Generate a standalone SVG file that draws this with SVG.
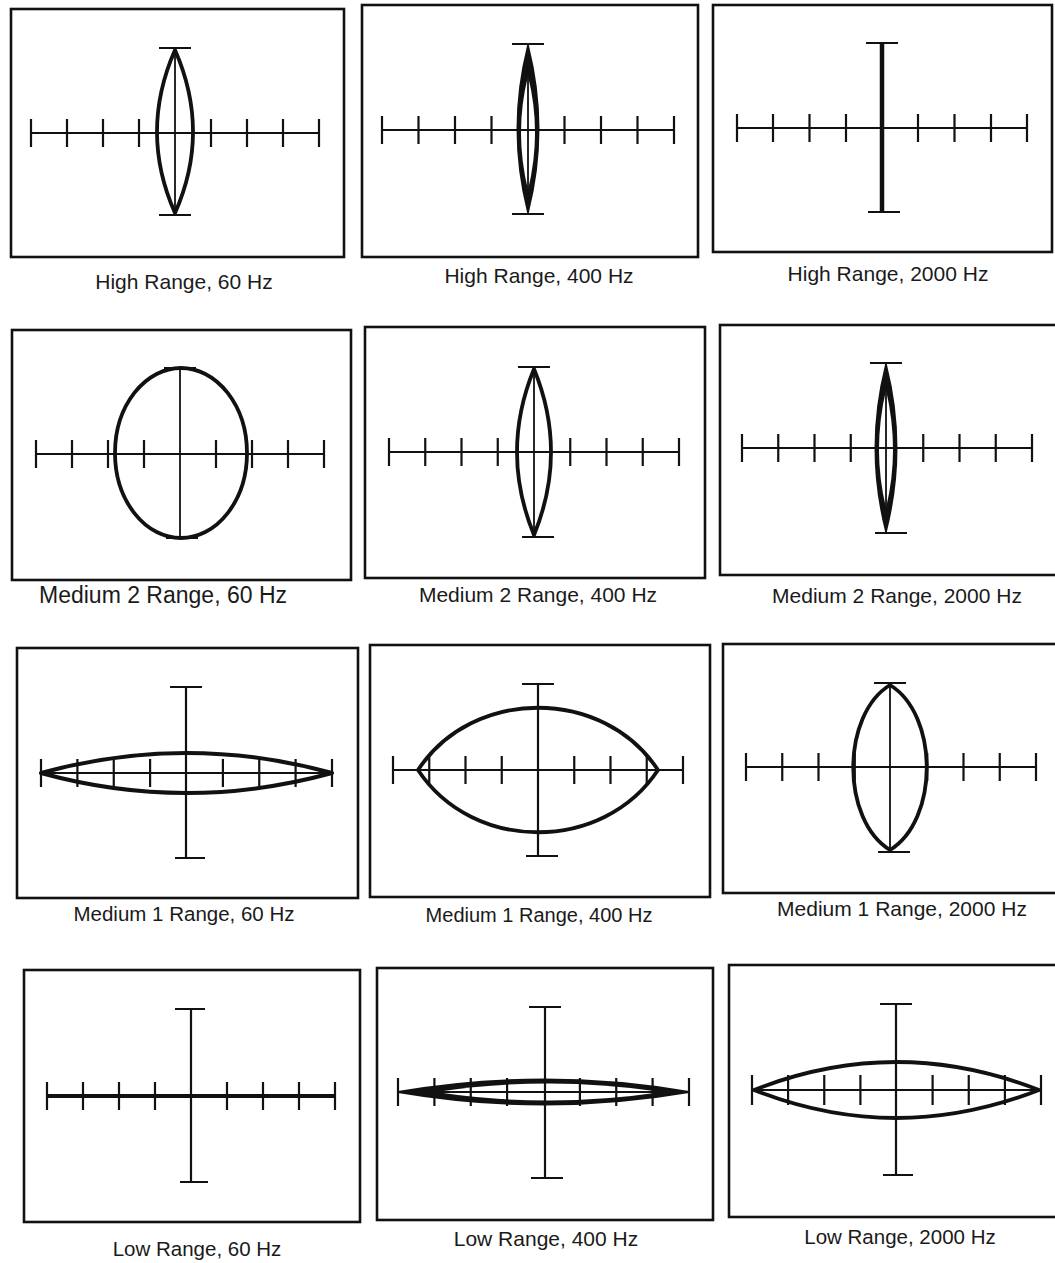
<svg xmlns="http://www.w3.org/2000/svg" width="1055" height="1263" viewBox="0 0 1055 1263">
<style>
.bg{fill:#fff}
.frame{fill:none;stroke:#111;stroke-width:2.6}
.axis{fill:none;stroke:#111;stroke-width:2.2}
.thin{fill:none;stroke:#111;stroke-width:1.8}
.thick{fill:none;stroke:#111;stroke-width:4.5}
.trace{fill:none;stroke:#111;stroke-width:3.8;stroke-linejoin:round}
.solid{fill:#111;stroke:#111;stroke-width:2;stroke-linejoin:round}
.hole{fill:#fff;stroke:none}
.lbl{font-family:"Liberation Sans",Arial,sans-serif;font-size:21px;fill:#1a1a1a;text-anchor:middle}
</style>
<rect class="bg" x="0" y="0" width="1055" height="1263"/>

<g id="panel-high-60">
<rect class="frame" x="11" y="9" width="333" height="248"/>
<path class="trace" d="M175,50 Q211,132 175,213 Q139,132 175,50Z"/>
<path class="axis" d="M31,133H319 M31,119V147 M67,119V147 M103,119V147 M139,119V147 M211,119V147 M247,119V147 M283,119V147 M319,119V147"/>
<path class="thin" d="M175,48V215"/>
<path class="axis" d="M159,48H191 M159,215H191"/>
<text class="lbl" x="184" y="289">High Range, 60 Hz</text>
</g>

<g id="panel-high-400">
<rect class="frame" x="362" y="5" width="336" height="252"/>
<path class="solid" d="M528,46 Q549,129 528,212 Q507,129 528,46Z"/>
<path class="hole" d="M528,76 Q542,132 528,190 Q514,132 528,76Z"/>
<path class="axis" d="M382,130H674 M382,116V144 M418.5,116V144 M455,116V144 M491.5,116V144 M564.5,116V144 M601,116V144 M637.5,116V144 M674,116V144"/>
<path class="thin" d="M528,44V214"/>
<path class="axis" d="M512,44H544 M512,214H544"/>
<text class="lbl" x="539" y="283">High Range, 400 Hz</text>
</g>

<g id="panel-high-2000">
<rect class="frame" x="713" y="5" width="339" height="247"/>
<path class="axis" d="M737,128H1027 M737,114V142 M773,114V142 M809.5,114V142 M846,114V142 M918,114V142 M954.5,114V142 M991,114V142 M1027,114V142"/>
<path class="thick" d="M882,43V212"/>
<path class="axis" d="M866,43H898 M868,212H900"/>
<text class="lbl" x="888" y="281">High Range, 2000 Hz</text>
</g>

<g id="panel-medium2-60">
<rect class="frame" x="12" y="330" width="339" height="250"/>
<ellipse class="trace" cx="181" cy="453" rx="66" ry="85"/>
<path class="axis" d="M36,454H324 M36,440V468 M72,440V468 M108,440V468 M144,440V468 M216,440V468 M252,440V468 M288,440V468 M324,440V468"/>
<path class="thin" d="M180,368V538"/>
<path class="axis" d="M164,368H196 M166,538H198"/>
<text class="lbl" x="163" y="603" style="font-size:23px">Medium 2 Range, 60 Hz</text>
</g>

<g id="panel-medium2-400">
<rect class="frame" x="365" y="327" width="340" height="251"/>
<path class="trace" d="M534,369 Q568,452 534,535 Q500,452 534,369Z"/>
<path class="axis" d="M389,452H679 M389,438V466 M425.25,438V466 M461.5,438V466 M497.75,438V466 M570.25,438V466 M606.5,438V466 M642.75,438V466 M679,438V466"/>
<path class="thin" d="M534,367V537"/>
<path class="axis" d="M518,367H550 M522,537H554"/>
<text class="lbl" x="538" y="602">Medium 2 Range, 400 Hz</text>
</g>

<g id="panel-medium2-2000">
<rect class="frame" x="720" y="325" width="340" height="250"/>
<path class="solid" d="M886,365 Q907,448 886,531 Q865,448 886,365Z"/>
<path class="hole" d="M886,390 Q900,450 886,508 Q872,450 886,390Z"/>
<path class="axis" d="M742,448H1032 M742,434V462 M778.25,434V462 M814.5,434V462 M850.75,434V462 M923.25,434V462 M959.5,434V462 M995.75,434V462 M1032,434V462"/>
<path class="thin" d="M886,363V533"/>
<path class="axis" d="M870,363H902 M875,533H907"/>
<text class="lbl" x="897" y="603">Medium 2 Range, 2000 Hz</text>
</g>

<g id="panel-medium1-60">
<rect class="frame" x="17" y="648" width="341" height="250"/>
<path class="trace" style="stroke-width:4" d="M41,773 Q186,733 332,773 Q186,813 41,773Z"/>
<path class="axis" d="M41,773H332 M41,759V787 M77.4,759V787 M113.75,759V787 M150.1,759V787 M222.9,759V787 M259.25,759V787 M295.6,759V787 M332,759V787"/>
<path class="axis" d="M186,687V858 M170,687H202 M175,858H205"/>
<text class="lbl" x="184" y="921" style="font-size:20.5px">Medium 1 Range, 60 Hz</text>
</g>

<g id="panel-medium1-400">
<rect class="frame" x="370" y="645" width="340" height="252"/>
<path class="trace" d="M418,770 C473,687 603,687 658,770 C603,853 473,853 418,770Z"/>
<path class="axis" d="M393,770H683 M393,756V784 M429.25,756V784 M465.5,756V784 M501.75,756V784 M574.25,756V784 M610.5,756V784 M646.75,756V784 M683,756V784"/>
<path class="axis" d="M538,684V856 M522,684H554 M526,856H558"/>
<text class="lbl" x="539" y="922" style="font-size:20px">Medium 1 Range, 400 Hz</text>
</g>

<g id="panel-medium1-2000">
<rect class="frame" x="723" y="644" width="340" height="249"/>
<path class="trace" d="M890,685 C939,715 939,820 890,850 C841,820 841,715 890,685Z"/>
<path class="axis" d="M746,767H1036 M746,753V781 M782.25,753V781 M818.5,753V781 M854.75,753V781 M927.25,753V781 M963.5,753V781 M999.75,753V781 M1036,753V781"/>
<path class="thin" d="M890,683V852"/>
<path class="axis" d="M874,683H906 M878,852H910"/>
<text class="lbl" x="902" y="916">Medium 1 Range, 2000 Hz</text>
</g>

<g id="panel-low-60">
<rect class="frame" x="24" y="970" width="336" height="252"/>
<path class="axis" style="stroke-width:4" d="M47,1096H335"/>
<path class="axis" d="M47,1082V1110 M83,1082V1110 M119,1082V1110 M155,1082V1110 M227,1082V1110 M263,1082V1110 M299,1082V1110 M335,1082V1110"/>
<path class="axis" d="M191,1009V1182 M175,1009H205 M180,1182H208"/>
<text class="lbl" x="197" y="1256" style="font-size:20.5px">Low Range, 60 Hz</text>
</g>

<g id="panel-low-400">
<rect class="frame" x="377" y="968" width="336" height="252"/>
<path class="solid" d="M398,1092 Q544,1067 689,1092 Q544,1117 398,1092Z"/>
<path class="hole" d="M436,1092 Q548,1075 662,1092 Q548,1109 436,1092Z"/>
<path class="axis" d="M398,1092H689 M398,1078V1106 M434.4,1078V1106 M470.75,1078V1106 M507.1,1078V1106 M579.9,1078V1106 M616.25,1078V1106 M652.6,1078V1106 M689,1078V1106"/>
<path class="axis" d="M545,1007V1178 M529,1007H561 M531,1178H563"/>
<text class="lbl" x="546" y="1246">Low Range, 400 Hz</text>
</g>

<g id="panel-low-2000">
<rect class="frame" x="729" y="965" width="330" height="252"/>
<path class="trace" d="M754,1090 Q896,1034 1039,1090 Q896,1146 754,1090Z"/>
<path class="axis" d="M752,1090H1041 M752,1075V1105 M788.1,1075V1105 M824.25,1075V1105 M860.4,1075V1105 M932.6,1075V1105 M968.75,1075V1105 M1004.9,1075V1105 M1041,1075V1105"/>
<path class="axis" d="M896,1004V1175 M880,1004H912 M883,1175H913"/>
<text class="lbl" x="900" y="1244" style="font-size:20.5px">Low Range, 2000 Hz</text>
</g>

<g id="connectors"></g>
</svg>
